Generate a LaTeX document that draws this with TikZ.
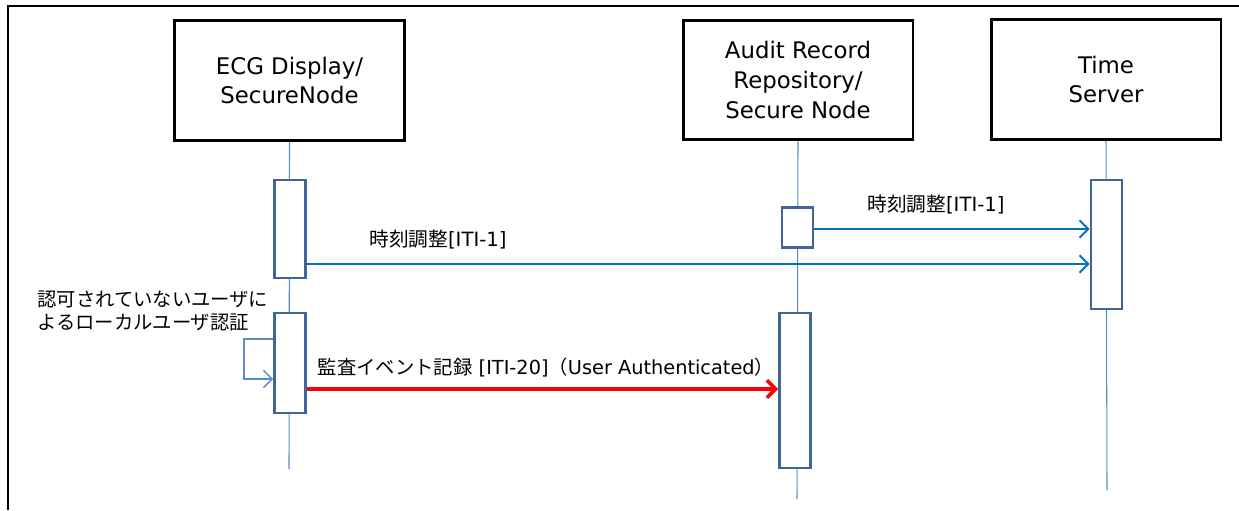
\documentclass[tikz,border=0pt]{standalone}
\usepackage{fontspec}
\setmainfont{DejaVu Sans}
\newfontfamily\jp{Noto Sans CJK JP}
\usepackage{tikz}
\usetikzlibrary{arrows.meta,positioning,calc}
\usepackage{xcolor}
\definecolor{lifeblue}{HTML}{5B8BC9}
\definecolor{actblue}{HTML}{41659A}
\definecolor{msgblue}{HTML}{0070C0}
\tikzset{
  actor/.style={draw,line width=1.7pt,minimum width=4.6cm,minimum height=2.4cm,align=center,
    font=\fontsize{13}{16.8}\selectfont},
  life/.style={draw=lifeblue,line width=0.6pt},
  act/.style={draw=actblue,fill=white,line width=1.5pt,inner sep=0pt,minimum width=0.62cm},
  msg/.style={draw=msgblue,line width=1.1pt,-{Straight Barb[length=5pt,width=10pt,line width=1.1pt]}},
  audit/.style={draw=red,line width=2.2pt,-{Straight Barb[length=5pt,width=10pt,line width=2pt]}},
  self/.style={draw=lifeblue,line width=0.8pt,-{Straight Barb[length=5pt,width=10pt,line width=0.8pt]}},
  lbl/.style={font=\fontsize{11.2}{13}\selectfont,inner sep=0pt}
}
\begin{document}
\begin{tikzpicture}[x=0.02cm,y=-0.02cm]
  \useasboundingbox (0,0) rectangle (1239,510);
  \draw[line width=1.7pt] (8,510) -- (8,6) -- (1239,6);
  \node[actor] (ecg) at (289.5,80.5) {ECG Display/\\SecureNode};
  \node[actor] (arr) at (798,80) {Audit Record\\Repository/\\Secure Node};
  \node[actor] (ts) at (1106,79.5) {Time\\Server};
  \coordinate (ecgend) at (289,469);
  \coordinate (arrend) at (797,499);
  \coordinate (tsend) at (1107,490);
  \draw[life] (ecg.south) -- (ecgend);
  \draw[life] (arr.south) -- (arrend);
  \draw[life] (ts.south) -- (tsend);
  \node[act,minimum height=1.96cm] (ecgA) at (290,229) {};
  \node[act,minimum height=2cm] (ecgB) at (290,363) {};
  \node[act,minimum height=0.8cm] (arrA) at (797.5,227.5) {};
  \node[act,minimum height=3.1cm] (arrB) at (795,390.5) {};
  \node[act,minimum height=2.58cm] (tsA) at (1106.5,244.5) {};
  \coordinate (m1) at (0,264);
  \coordinate (m2) at (0,229);
  \coordinate (m3) at (0,389);
  \coordinate (s1) at (244,339);
  \coordinate (s2) at (244,379);
  \draw[msg] (ecgA.east |- m1) -- (tsA.west |- m1);
  \draw[msg] (arrA.east |- m2) -- (tsA.west |- m2);
  \draw[audit] (ecgB.east |- m3) -- (arrB.west |- m3);
  \draw[self] (ecgB.west |- s1) -- (s1) -- (s2) -- (ecgB.west |- s2);
  \node[lbl] (l1) at (438,240) {{\jp 時刻調整}[ITI-1]};
  \node[lbl] (l2) at (936,205) {{\jp 時刻調整}[ITI-1]};
  \node[lbl,font=\fontsize{11}{13}\selectfont] (l3) at (546,367)
    {{\jp 監査イベント記録} [ITI-20]{\jp （}User Authenticated{\jp ）}};
  \node[lbl,anchor=west,align=left,font=\jp\fontsize{11}{13}\selectfont] (l4) at (37,311)
    {認可されていないユーザに\\よるローカルユーザ認証};
\end{tikzpicture}
\end{document}
